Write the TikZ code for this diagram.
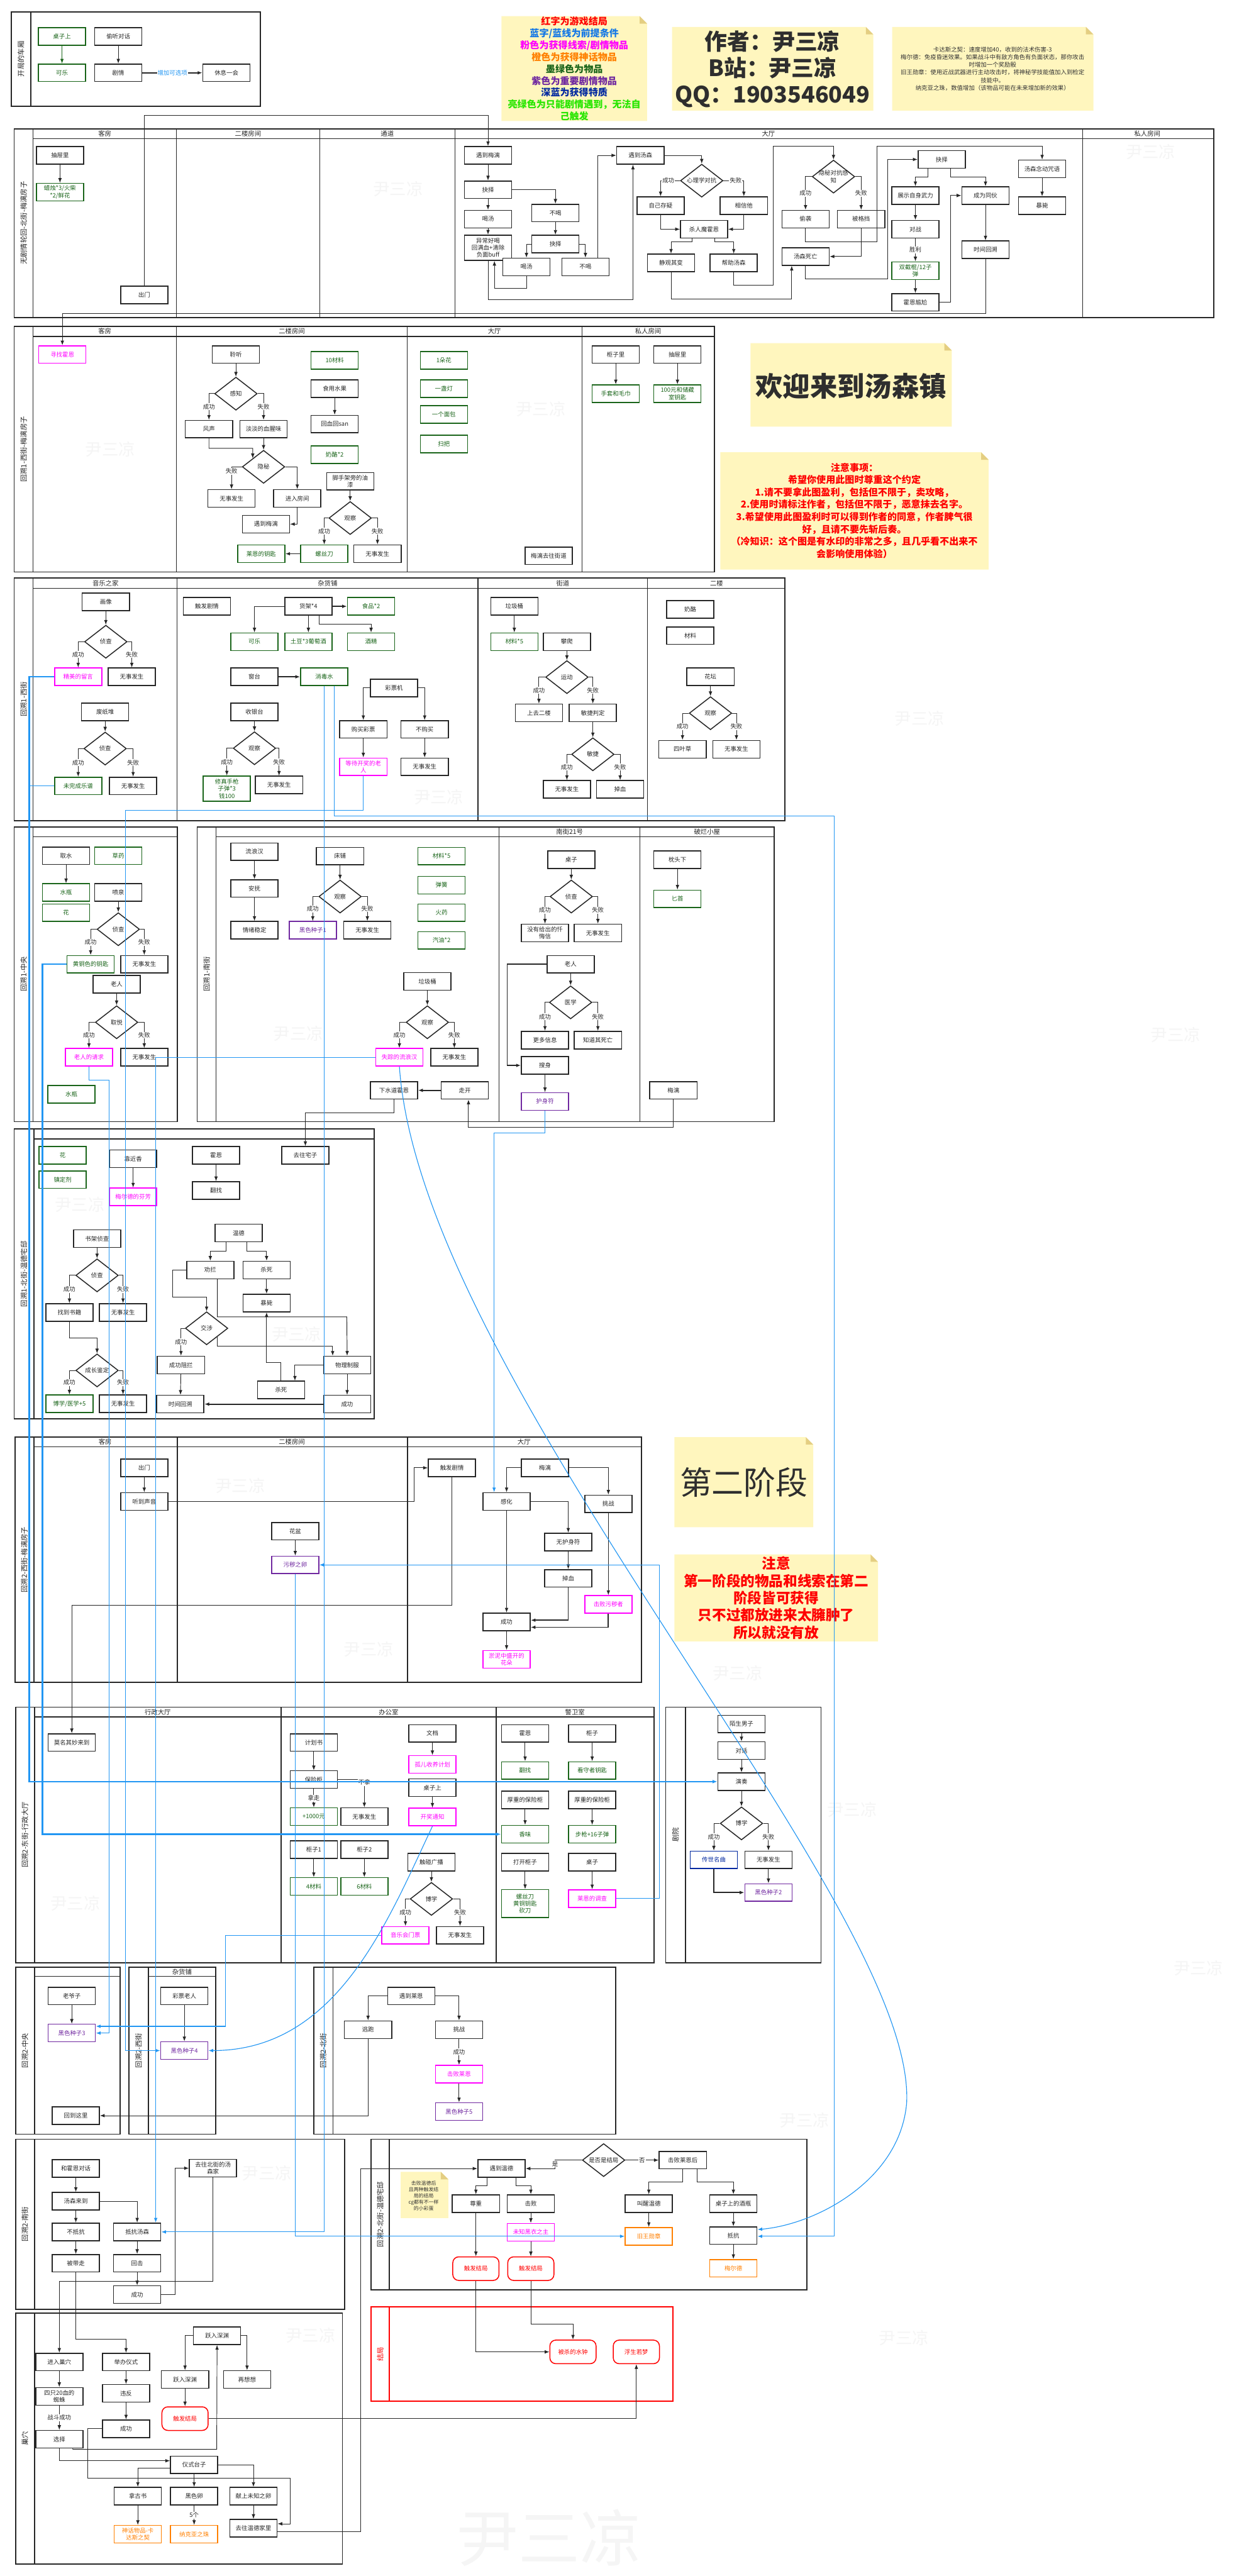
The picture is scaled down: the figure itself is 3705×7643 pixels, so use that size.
\documentclass[tikz,border=0pt]{standalone}
\usepackage{fontspec}
\setmainfont{Noto Sans CJK SC}
\usetikzlibrary{shapes.geometric,arrows.meta,calc}
\definecolor{itemg}{RGB}{25,100,25}
\definecolor{clue}{RGB}{255,0,255}
\definecolor{imp}{RGB}{112,40,160}
\definecolor{myth}{RGB}{255,128,0}
\definecolor{trait}{RGB}{0,40,160}
\definecolor{bl}{RGB}{33,150,243}
\definecolor{legblue}{RGB}{20,120,230}
\definecolor{brightg}{RGB}{40,230,0}
\definecolor{note}{RGB}{255,246,190}
\definecolor{fold}{RGB}{228,206,130}
\definecolor{ink}{RGB}{38,38,38}
\tikzset{
 base/.style={rectangle, draw, line width=0.8pt, minimum width=1.4cm, minimum height=0.52cm, inner sep=1pt, align=center, font=\fontsize{5}{6}\selectfont, fill=white},
 bx/.style={base, draw=ink, text=ink},
 gbx/.style={base, draw=itemg, text=itemg},
 mbx/.style={base, draw=clue, text=clue},
 pbx/.style={base, draw=imp, text=imp},
 obx/.style={base, draw=myth, text=myth},
 tbx/.style={base, draw=trait, text=trait},
 ebx/.style={base, draw=red, text=red, rounded corners=5pt, minimum height=0.7cm, minimum width=1.37cm},
 dia/.style={diamond, draw=ink, line width=0.8pt, minimum width=1.26cm, minimum height=0.98cm, inner sep=0pt, fill=white},
 dtx/.style={font=\fontsize{5}{6}\selectfont, align=center, inner sep=0pt, text=ink},
 arr/.style={draw=ink, line width=0.5pt, -{Latex[length=4pt,width=3pt]}},
 garr/.style={draw=itemg, line width=0.5pt, -{Latex[length=4pt,width=3pt]}},
 barr/.style={draw=bl, line width=0.6pt, -{Latex[length=4pt,width=3pt]}},
 bln/.style={draw=bl, line width=0.6pt},
 lbl/.style={fill=white, inner sep=0.6pt, font=\fontsize{5}{6}\selectfont, text=ink},
 frm/.style={draw=ink, line width=1pt},
 lane/.style={draw=ink, line width=0.7pt},
 hdr/.style={font=\fontsize{5.5}{6.5}\selectfont, text=ink, inner sep=0pt},
 ttl/.style={font=\fontsize{6}{7}\selectfont, text=ink, rotate=90, inner sep=0pt},
 wm/.style={font=\fontsize{14}{14}\selectfont, text=black!4, inner sep=0pt},
}
\newcommand\mydia[3]{\node[dia] (#1) at (#2) {}; \node[dtx] (#1t) at (#1) {#3};}
\newcommand\mynote[4]{\fill[note] (#1,#2) -- (#3-22,#2) -- (#3,#2+22) -- (#3,#4) -- (#1,#4) -- cycle; \fill[fold] (#3-22,#2) -- (#3,#2+22) -- (#3-22,#2+22) -- cycle;}
\begin{document}
\begin{tikzpicture}[x=0.01cm,y=-0.01cm]
\useasboundingbox (0,0) rectangle (3705,7643);
\fill[white] (0,0) rectangle (3705,7643);

% watermarks
\foreach \x/\y [count=\i] in {1181/560,3414/451,327/1333,1605/1213,1302/2366,2729/2131,885/3067,3488/3070,237/3574,880/3959,713/4408,1094/4893,2189/4964,224/5647,2528/5369,3556/5839,792/6448,2387/6291,922/6930,2682/6936}
  \node[wm] (wm\i) at (\x,\y) {尹三凉};
\node[wm, font=\fontsize{52}{52}\selectfont] (wmbig) at (1630,7529) {尹三凉};

% ---------------- notes ----------------
\mynote{1488}{48}{1920}{359}
\node[font=\fontsize{8}{10}\selectfont\bfseries, align=center] (legend) at (1704,204) {\textcolor{red}{红字为游戏结局}\\\textcolor{legblue}{蓝字/蓝线为前提条件}\\\textcolor{clue}{粉色为获得线索/剧情物品}\\\textcolor{myth}{橙色为获得神话物品}\\\textcolor{itemg}{墨绿色为物品}\\\textcolor{imp}{紫色为重要剧情物品}\\\textcolor{trait}{深蓝为获得特质}\\\textcolor{brightg}{亮绿色为只能剧情遇到，无法自}\\\textcolor{brightg}{己触发}};
\mynote{1994}{80}{2591}{328}
\node[font=\fontsize{19}{22.5}\selectfont\bfseries, text=black!82, align=center] (author) at (2292,205) {作者：尹三凉\\B站：尹三凉\\QQ：1903546049};
\mynote{2647}{80}{3244}{328}
\node[font=\fontsize{5}{6.5}\selectfont, text=black!80, align=center] (items) at (2945,204) {卡达斯之契：速度增加40，收到的法术伤害-3\\梅尔德：免疫昏迷效果。如果战斗中有敌方角色有负面状态，那你攻击\\时增加一个奖励骰\\旧王勋章：使用近战武器进行主动攻击时，将神秘学技能值加入到检定\\技能中。\\纳克亚之珠，数值增加（该物品可能在未来增加新的效果）};
\mynote{2227}{1018}{2824}{1266}
\node[font=\fontsize{23}{23}\selectfont\bfseries, text=black!82] (welcome) at (2525,1146) {欢迎来到汤森镇};
\mynote{2137}{1342}{2933}{1690}
\node[font=\fontsize{8}{10.4}\selectfont\bfseries, text=red, align=center] (notice) at (2535,1515) {注意事项：\\希望你使用此图时尊重这个约定\\1.请不要拿此图盈利，包括但不限于，卖攻略，\\2.使用时请标注作者，包括但不限于，恶意抹去名字。\\3.希望使用此图盈利时可以得到作者的同意，作者脾气很\\好，且请不要先斩后奏。\\（冷知识：这个图是有水印的非常之多，且几乎看不出来不\\会影响使用体验）};
\mynote{2001}{4264}{2413}{4531}
\node[font=\fontsize{27}{27}\selectfont, text=black!82] (stage2) at (2207,4398) {第二阶段};
\mynote{2001}{4612}{2605}{4870}
\node[font=\fontsize{12}{14.5}\selectfont\bfseries, text=red, align=center] (notice2) at (2303,4741) {注意\\第一阶段的物品和线索在第二\\阶段皆可获得\\只不过都放进来太臃肿了\\所以就没有放};
\mynote{1189}{6444}{1330}{6581}
\node[font=\fontsize{4.2}{5.4}\selectfont, text=black!80, align=center] (egg) at (1257,6515) {击败温德后\\且两种触发结\\局的结局\\cg都有不一样\\的小彩蛋};

% ---------------- section 0: 开局的车厢 ----------------
\draw[frm] (34,35) rectangle (772,315);
\draw[frm] (91,35) -- (91,315);
\node[ttl] (t0) at (62,175) {开局的车厢};
\node[gbx] (s0a) at (184,108) {桌子上};
\node[bx] (s0b) at (351,108) {偷听对话};
\node[gbx] (s0c) at (184,216) {可乐};
\node[bx] (s0d) at (351,216) {剧情};
\node[bx] (s0e) at (672,216) {休息一会};
\draw[garr] (s0a) -- (s0c);
\draw[arr] (s0b) -- (s0d);
\draw[arr, line width=0.9pt] (s0d) -- node[fill=white, inner sep=0.5pt, text=bl, font=\fontsize{5}{6}\selectfont] {增加可选项} (s0e);

% ---------------- section 1 ----------------
\draw[frm] (42,383) rectangle (3601,942);
\draw[frm] (98,383) -- (98,942);
\draw[lane] (98,412) -- (3601,412);
\foreach \xx in {523,949,1350,3212} \draw[lane] (\xx,383) -- (\xx,942);
\node[ttl] (t1) at (70,662) {无剧情轮回-北街-梅漓房子};
\node[hdr] (h1a) at (311,397) {客房};
\node[hdr] (h1b) at (736,397) {二楼房间};
\node[hdr] (h1c) at (1149,397) {通道};
\node[hdr] (h1d) at (2280,397) {大厅};
\node[hdr] (h1e) at (3404,397) {私人房间};

\node[bx] (a1) at (178,461) {抽屉里};
\node[gbx] (a2) at (178,570) {蜡烛*3/火柴\\*2/鲜花};
\node[bx] (a3) at (428,875) {出门};
\node[bx] (a4) at (1448,461) {遇到梅漓};
\node[bx] (a5) at (1448,563) {抉择};
\node[bx] (a6) at (1448,650) {喝汤};
\node[bx, minimum height=0.75cm] (a7) at (1448,735) {异常好喝\\回满血+清除\\负面buff};
\node[bx] (a8) at (1648,632) {不喝};
\node[bx] (a9) at (1648,724) {抉择};
\node[bx] (a10) at (1562,792) {喝汤};
\node[bx] (a11) at (1737,792) {不喝};
\node[bx] (a12) at (1900,461) {遇到汤森};
\mydia{a13}{2082,536}{心理学对抗}
\node[bx] (a14) at (1960,610) {自己存疑};
\node[bx] (a15) at (2207,610) {相信他};
\node[bx] (a16) at (2089,680) {杀人魔霍恩};
\node[bx] (a17) at (1991,780) {静观其变};
\node[bx] (a18) at (2177,780) {帮助汤森};
\node[bx] (a19) at (2390,761) {汤森死亡};
\mydia{a20}{2473,524}{隐秘对抗感\\知}
\node[bx] (a21) at (2390,650) {偷袭};
\node[bx] (a22) at (2555,650) {被格挡};
\node[bx] (a23) at (2794,473) {抉择};
\node[bx] (a24) at (2716,580) {展示自身武力};
\node[bx] (a25) at (2924,580) {成为同伙};
\node[bx] (a26) at (2716,680) {对战};
\node[gbx] (a27) at (2716,803) {双截棍/12子\\弹};
\node[bx] (a28) at (2716,897) {霍恩尴尬};
\node[bx] (a29) at (2924,741) {时间回溯};
\node[bx] (a30) at (3092,501) {汤森念动咒语};
\node[bx] (a31) at (3092,610) {暴毙};

\draw[arr] (a1) -- (a2);
\draw[arr] (a3.north) |- (1448,343) -- (a4.north);
\draw[arr] (a4) -- (a5);
\draw[arr] (a5) -- (a6);
\draw[arr] (a6) -- (a7);
\draw[arr] (a5.east) -| (a8.north);
\draw[arr] (a8) -- (a9);
\draw[arr] (a9.west) -| (a10.north);
\draw[arr] (a9.east) -| (a11.north);
\draw[arr] (a10.south) |- (1467,856) -- ($(a7.south)+(19,0)$);
\draw[arr] ($(a11.north)+(36,0)$) |- (a12.west);
\draw[arr] (a7.south) |- (1878,889) -- ($(a12.south)+(-22,0)$);
\draw[arr] (a12.east) -| (a13.north);
\draw[arr] (a13.west) -| node[lbl,pos=0.3]{成功} (a14.north);
\draw[arr] (a13.east) -| node[lbl,pos=0.3]{失败} (a15.north);
\draw[arr] (a14.south) |- (a16.west);
\draw[arr] (a15.south) |- (a16.east);
\draw[arr] ($(a16.south)+(-35,0)$) |- (1991,718) -- (a17.north);
\draw[arr] ($(a16.south)+(32,0)$) |- (2177,718) -- (a18.north);
\draw[arr] (a18.south) |- (2295,846) |- (2473,433) -- (a20.north);
\draw[arr] (a17.south) |- (2349,888) -- ($(a19.south)+(-41,0)$);
\draw[arr] (a20.west) -| node[lbl,pos=0.75]{成功} (a21.north);
\draw[arr] (a20.east) -| node[lbl,pos=0.75]{失败} (a22.north);
\draw[arr] (a21.south) |- (2602,718) |- (3092,433) -- (a30.north);
\draw[arr] (a22.south) |- (a19.east);
\draw[arr] (a19.south) |- (2634,828) |- (a23.west);
\draw[arr] ($(a23.south)+(-40,0)$) |- (2716,526) -- (a24.north);
\draw[arr] ($(a23.south)+(27,0)$) |- (2924,526) -- (a25.north);
\draw[arr] (a24) -- (a26);
\draw[arr] (a26) -- node[lbl]{胜利} (a27);
\draw[arr] (a27) -- (a28);
\draw[arr] (a28.east) -| (2821,580) -- (a25.west);
\draw[arr] (a25) -- (a29);
\draw[arr] (a30) -- (a31);

% ---------------- section 2 ----------------
\draw[frm] (42,969) rectangle (2119,1697);
\draw[frm] (98,969) -- (98,1697);
\draw[lane] (98,998) -- (2119,998);
\foreach \xx in {523,1208,1727} \draw[lane] (\xx,969) -- (\xx,1697);
\node[ttl] (t2) at (70,1333) {回溯1-西街-梅漓房子};
\node[hdr] (h2a) at (311,983) {客房};
\node[hdr] (h2b) at (866,983) {二楼房间};
\node[hdr] (h2c) at (1467,983) {大厅};
\node[hdr] (h2d) at (1923,983) {私人房间};

\node[mbx] (b1) at (185,1052) {寻找霍恩};
\node[bx] (b2) at (700,1052) {聆听};
\mydia{b3}{700,1168}{感知}
\node[bx] (b4) at (620,1273) {风声};
\node[bx] (b5) at (782,1273) {淡淡的血腥味};
\mydia{b6}{782,1385}{隐秘}
\node[bx] (b7) at (687,1479) {无事发生};
\node[bx] (b8) at (882,1479) {进入房间};
\node[bx] (b9) at (789,1555) {遇到梅漓};
\node[gbx] (b10) at (993,1069) {10材料};
\node[bx] (b11) at (993,1153) {食用水果};
\node[bx] (b12) at (993,1258) {回血回san};
\node[gbx] (b13) at (993,1349) {奶酪*2};
\node[bx] (b14) at (1039,1428) {脚手架旁的油\\漆};
\mydia{b15}{1039,1537}{观察}
\node[gbx] (b16) at (962,1643) {螺丝刀};
\node[bx] (b17) at (1120,1643) {无事发生};
\node[gbx] (b18) at (775,1643) {莱恩的钥匙};
\node[gbx] (b19) at (1317,1069) {1朵花};
\node[gbx] (b20) at (1317,1153) {一盏灯};
\node[gbx] (b21) at (1317,1230) {一个面包};
\node[gbx] (b22) at (1317,1317) {扫把};
\node[bx] (b23) at (1628,1649) {梅漓去往街道};
\node[bx] (b24) at (1827,1052) {柜子里};
\node[gbx] (b25) at (1827,1168) {手套和毛巾};
\node[bx] (b26) at (2010,1052) {抽屉里};
\node[gbx] (b27) at (2010,1168) {100元和储藏\\室钥匙};

\draw[arr] (a29.south) |- (185,931) -- (b1.north);
\draw[arr] (b2) -- (b3);
\draw[arr] (b3.west) -| node[lbl,pos=0.75]{成功} (b4.north);
\draw[arr] (b3.east) -| node[lbl,pos=0.75]{失败} (b5.north);
\draw[arr] (b4.south) |- (750,1330) -- (b6.north west);
\draw[arr] (b5) -- (b6);
\draw[arr] (b6.west) -| node[lbl,pos=0.6]{失败} (b7.north);
\draw[arr] (b6.east) -| (b8.north);
\draw[arr] (b8.south) |- (b9.east);
\draw[arr] (b11) -- (b12);
\draw[arr] (b14) -- (b15);
\draw[arr] (b15.west) -| node[lbl,pos=0.75]{成功} (b16.north);
\draw[arr] (b15.east) -| node[lbl,pos=0.75]{失败} (b17.north);
\draw[arr, line width=0.9pt] (b16) -- (b18);
\draw[arr] (b24) -- (b25);
\draw[arr] (b26) -- (b27);

% ---------------- section 3 ----------------
\draw[frm] (42,1715) rectangle (2328,2435);
\draw[frm] (98,1715) -- (98,2435);
\draw[lane] (98,1745) -- (2328,1745);
\foreach \xx in {525,1418,1921} \draw[lane] (\xx,1715) -- (\xx,2435);
\node[ttl] (t3) at (70,2075) {回溯1-西街};
\node[hdr] (h3a) at (313,1730) {音乐之家};
\node[hdr] (h3b) at (972,1730) {杂货铺};
\node[hdr] (h3c) at (1670,1730) {街道};
\node[hdr] (h3d) at (2126,1730) {二楼};

\node[bx] (c1) at (314,1786) {画像};
\mydia{c2}{314,1904}{侦查}
\node[mbx] (c3) at (232,2008) {精美的留言};
\node[bx] (c4) at (391,2008) {无事发生};
\node[bx] (c5) at (312,2112) {废纸堆};
\mydia{c6}{312,2221}{侦查}
\node[gbx] (c7) at (232,2332) {未完成乐谱};
\node[bx] (c8) at (395,2332) {无事发生};
\node[bx] (c9) at (614,1799) {触发剧情};
\node[bx] (c10) at (915,1799) {货架*4};
\node[gbx] (c11) at (1101,1799) {食品*2};
\node[gbx] (c12) at (755,1904) {可乐};
\node[gbx] (c13) at (915,1904) {土豆*3葡萄酒};
\node[gbx] (c14) at (1101,1904) {酒精};
\node[bx] (c15) at (755,2008) {窗台};
\node[gbx] (c16) at (962,2008) {消毒水};
\node[bx] (c17) at (1169,2041) {彩票机};
\node[bx] (c18) at (1078,2164) {购买彩票};
\node[bx] (c19) at (1260,2164) {不购买};
\node[mbx] (c20) at (1078,2275) {等待开奖的老\\人};
\node[bx] (c21) at (1260,2275) {无事发生};
\node[bx] (c22) at (755,2112) {收银台};
\mydia{c23}{755,2220}{观察}
\node[gbx, minimum height=0.75cm] (c24) at (673,2340) {修真手枪\\子弹*3\\钱100};
\node[bx] (c25) at (828,2329) {无事发生};
\node[bx] (c26) at (1526,1799) {垃圾桶};
\node[gbx] (c27) at (1526,1904) {材料*5};
\node[bx] (c28) at (1682,1904) {攀爬};
\mydia{c29}{1682,2009}{运动}
\node[bx] (c30) at (1599,2115) {上去二楼};
\node[bx] (c31) at (1759,2115) {敏捷判定};
\mydia{c32}{1759,2238}{敏捷}
\node[bx] (c33) at (1682,2342) {无事发生};
\node[bx] (c34) at (1840,2342) {掉血};
\node[bx] (c35) at (2048,1808) {奶酪};
\node[bx] (c36) at (2048,1886) {材料};
\node[bx] (c37) at (2108,2008) {花坛};
\mydia{c38}{2108,2116}{观察}
\node[bx] (c39) at (2025,2223) {四叶草};
\node[bx] (c40) at (2185,2223) {无事发生};

\draw[arr] (c1) -- (c2);
\draw[arr] (c2.west) -| node[lbl,pos=0.75]{成功} (c3.north);
\draw[arr] (c2.east) -| node[lbl,pos=0.75]{失败} (c4.north);
\draw[arr] (c5) -- (c6);
\draw[arr] (c6.west) -| node[lbl,pos=0.75]{成功} (c7.north);
\draw[arr] (c6.east) -| node[lbl,pos=0.75]{失败} (c8.north);
\draw[arr] (c10.west) -| (c12.north);
\draw[arr] (c10) -- (c13);
\draw[arr] ($(c10.south)+(31,0)$) |- (1101,1851) -- (c14.north);
\draw[arr, line width=1pt] (c10) -- (c11);
\draw[arr, line width=1pt] (c15) -- (c16);
\draw[arr] (c17.west) -| (c18.north);
\draw[arr] (c17.east) -| (c19.north);
\draw[arr] (c18) -- (c20);
\draw[arr] (c19) -- (c21);
\draw[arr] (c22) -- (c23);
\draw[arr] (c23.west) -| node[lbl,pos=0.75]{成功} (c24.north);
\draw[arr] (c23.east) -| node[lbl,pos=0.75]{失败} (c25.north);
\draw[arr] (c26) -- (c27);
\draw[arr] (c28) -- (c29);
\draw[arr] (c29.west) -| node[lbl,pos=0.75]{成功} (c30.north);
\draw[arr] (c29.east) -| node[lbl,pos=0.75]{失败} (c31.north);
\draw[arr] (c31) -- (c32);
\draw[arr] (c32.west) -| node[lbl,pos=0.75]{成功} (c33.north);
\draw[arr] (c32.east) -| node[lbl,pos=0.75]{失败} (c34.north);
\draw[arr] (c37) -- (c38);
\draw[arr] (c38.west) -| node[lbl,pos=0.75]{成功} (c39.north);
\draw[arr] (c38.east) -| node[lbl,pos=0.75]{失败} (c40.north);

% ---------------- section 4a ----------------
\draw[frm] (42,2453) rectangle (527,3328);
\draw[frm] (98,2453) -- (98,3328);
\draw[lane] (98,2482) -- (527,2482);
\node[ttl] (t4a) at (70,2890) {回溯1-中央};
\node[bx] (d1) at (196,2539) {取水};
\node[gbx] (d2) at (351,2539) {草药};
\node[gbx] (d3) at (196,2648) {水瓶};
\node[bx] (d4) at (351,2648) {喷泉};
\node[gbx] (d5) at (196,2708) {花};
\mydia{d6}{351,2757}{侦查}
\node[gbx] (d7) at (269,2861) {黄铜色的钥匙};
\node[bx] (d8) at (428,2861) {无事发生};
\node[bx] (d9) at (346,2920) {老人};
\mydia{d10}{346,3033}{取悦}
\node[mbx] (d11) at (264,3137) {老人的请求};
\node[bx] (d12) at (428,3137) {无事发生};
\node[gbx] (d13) at (212,3247) {水瓶};
\draw[arr] (d1) -- (d3);
\draw[arr] (d4) -- (d6);
\draw[arr] (d6.west) -| node[lbl,pos=0.75]{成功} (d7.north);
\draw[arr] (d6.east) -| node[lbl,pos=0.75]{失败} (d8.north);
\draw[arr] (d9) -- (d10);
\draw[arr] (d10.west) -| node[lbl,pos=0.75]{成功} (d11.north);
\draw[arr] (d10.east) -| node[lbl,pos=0.75]{失败} (d12.north);

% ---------------- section 4b ----------------
\draw[frm] (585,2453) rectangle (2297,3328);
\draw[frm] (641,2453) -- (641,3328);
\draw[lane] (641,2482) -- (2297,2482);
\foreach \xx in {1481,1899} \draw[lane] (\xx,2453) -- (\xx,3328);
\node[ttl] (t4b) at (613,2890) {回溯1-南街};
\node[hdr] (h4a) at (1690,2467) {南街21号};
\node[hdr] (h4b) at (2098,2467) {破烂小屋};
\node[bx] (e1) at (755,2527) {流浪汉};
\node[bx] (e2) at (755,2636) {安抚};
\node[bx] (e3) at (755,2760) {情绪稳定};
\node[bx] (e4) at (1009,2540) {床铺};
\mydia{e5}{1009,2660}{观察}
\node[pbx] (e6) at (928,2760) {黑色种子1};
\node[bx] (e7) at (1090,2760) {无事发生};
\node[gbx] (e8) at (1310,2540) {材料*5};
\node[gbx] (e9) at (1310,2626) {弹簧};
\node[gbx] (e10) at (1310,2708) {火药};
\node[gbx] (e11) at (1310,2790) {汽油*2};
\node[bx] (e12) at (1268,2912) {垃圾桶};
\mydia{e13}{1268,3033}{观察}
\node[mbx] (e14) at (1185,3137) {失踪的流浪汉};
\node[bx] (e15) at (1348,3137) {无事发生};
\node[bx] (e16) at (1169,3235) {下水道霍恩};
\node[bx] (e17) at (1379,3235) {走开};
\node[bx] (e18) at (1695,2551) {桌子};
\mydia{e19}{1695,2660}{侦查}
\node[bx] (e20) at (1617,2768) {没有给出的忏\\悔信};
\node[bx] (e21) at (1774,2768) {无事发生};
\node[bx] (e22) at (1693,2861) {老人};
\mydia{e23}{1693,2974}{医学}
\node[bx] (e24) at (1617,3086) {更多信息};
\node[bx] (e25) at (1774,3086) {知道其死亡};
\node[bx] (e26) at (1617,3161) {搜身};
\node[pbx] (e27) at (1617,3268) {护身符};
\node[bx] (e28) at (2010,2551) {枕头下};
\node[gbx] (e29) at (2010,2667) {匕首};
\node[bx] (e30) at (1998,3235) {梅漓};
\draw[arr] (e1) -- (e2);
\draw[arr] (e2) -- (e3);
\draw[arr] (e4) -- (e5);
\draw[arr] (e5.west) -| node[lbl,pos=0.75]{成功} (e6.north);
\draw[arr] (e5.east) -| node[lbl,pos=0.75]{失败} (e7.north);
\draw[arr] (e12) -- (e13);
\draw[arr] (e13.west) -| node[lbl,pos=0.75]{成功} (e14.north);
\draw[arr] (e13.east) -| node[lbl,pos=0.75]{失败} (e15.north);
\draw[arr, line width=1pt] (e17) -- (e16);
\draw[arr] (e18) -- (e19);
\draw[arr] (e19.west) -| node[lbl,pos=0.75]{成功} (e20.north);
\draw[arr] (e19.east) -| node[lbl,pos=0.75]{失败} (e21.north);
\draw[arr] (e22) -- (e23);
\draw[arr] (e23.west) -| node[lbl,pos=0.75]{成功} (e24.north);
\draw[arr] (e23.east) -| node[lbl,pos=0.75]{失败} (e25.north);
\draw[arr, line width=0.9pt] (e22.west) -| (1505,3161) -- (e26.west);
\draw[arr] (e26) -- (e27);
\draw[arr] (e28) -- (e29);
\draw[arr] (e30.south) |- (1390,3345) -- ($(e17.south)+(11,0)$);

% ---------------- section 5 ----------------
\draw[frm] (42,3350) rectangle (1110,4210);
\draw[frm] (100,3350) -- (100,4210);
\draw[lane] (100,3379) -- (1110,3379);
\node[ttl] (t5) at (71,3780) {回溯1-北街-温德宅邸};
\node[gbx] (f1) at (186,3428) {花};
\node[gbx] (f2) at (186,3500) {镇定剂};
\node[bx] (f3) at (395,3438) {靠近香};
\node[mbx] (f4) at (395,3551) {梅尔德的芬芳};
\node[bx] (f5) at (641,3428) {霍恩};
\node[bx] (f6) at (641,3532) {翻找};
\node[bx] (f7) at (906,3428) {去往宅子};
\node[bx] (f8) at (288,3675) {书架侦查};
\mydia{f9}{288,3784}{侦查}
\node[bx] (f10) at (206,3894) {找到书籍};
\node[bx] (f11) at (365,3894) {无事发生};
\mydia{f12}{288,4066}{成长鉴定}
\node[gbx] (f13) at (206,4165) {博学/医学+5};
\node[bx] (f14) at (365,4165) {无事发生};
\node[bx] (f15) at (708,3658) {温德};
\node[bx] (f16) at (624,3768) {劝拦};
\node[bx] (f17) at (791,3768) {杀死};
\node[bx] (f18) at (791,3866) {暴毙};
\mydia{f19}{613,3941}{交涉}
\node[bx] (f20) at (537,4050) {成功阻拦};
\node[bx] (f21) at (1030,4050) {物理制服};
\node[bx] (f22) at (834,4124) {杀死};
\node[bx] (f23) at (535,4166) {时间回溯};
\node[bx] (f24) at (1030,4166) {成功};
\draw[arr] (e16.south) |- (906,3302) -- (f7.north);
\draw[arr] (f3) -- (f4);
\draw[arr] (f5) -- (f6);
\draw[arr] (f8) -- (f9);
\draw[arr] (f9.west) -| node[lbl,pos=0.75]{成功} (f10.north);
\draw[arr] (f9.east) -| node[lbl,pos=0.75]{失败} (f11.north);
\draw[arr] (f10.south) |- (288,3969) -- (f12.north);
\draw[arr] (f12.west) -| node[lbl,pos=0.75]{成功} (f13.north);
\draw[arr] (f12.east) -| node[lbl,pos=0.75]{失败} (f14.north);
\draw[arr] ($(f15.south)+(-38,0)$) |- (624,3712) -- (f16.north);
\draw[arr] ($(f15.south)+(24,0)$) |- (791,3712) -- (f17.north);
\draw[arr] (f17) -- (f18);
\draw[arr] (f16.west) -| (513,3849) -| (f19.north);
\draw[arr] ($(f16.south)+(21,0)$) |- (1029,3907) -- (f21.north);
\draw[arr] (f19.west) -| node[lbl,pos=0.75]{成功} (f20.north);
\draw[arr] (f19.south east) |- (987,3994) -- ($(f21.north)+(-43,0)$);
\draw[arr] (f21.west) -| ($(f22.north)+(41,0)$);
\draw[arr] (f22.north) |- (791,4043) -- (f18.south);
\draw[arr] (f20) -- (f23);
\draw[arr] (f21) -- (f24);
\draw[arr, line width=1pt] (f24) -- (f23);

% ---------------- section 6 ----------------
\draw[frm] (45,4264) rectangle (1904,4992);
\draw[frm] (100,4264) -- (100,4992);
\draw[lane] (100,4292) -- (1904,4292);
\foreach \xx in {526,1209} \draw[lane] (\xx,4264) -- (\xx,4992);
\node[ttl] (t6) at (72,4628) {回溯2-西街-梅漓房子};
\node[hdr] (h6a) at (312,4278) {客房};
\node[hdr] (h6b) at (866,4278) {二楼房间};
\node[hdr] (h6c) at (1555,4278) {大厅};
\node[bx] (g1) at (428,4355) {出门};
\node[bx] (g2) at (428,4455) {听到声音};
\node[bx] (g3) at (1341,4355) {触发剧情};
\node[bx] (g4) at (1617,4355) {梅漓};
\node[bx] (g5) at (1503,4455) {感化};
\node[bx] (g6) at (1805,4462) {挑战};
\node[bx] (g7) at (1686,4575) {无护身符};
\node[bx] (g8) at (1686,4683) {掉血};
\node[mbx] (g9) at (1805,4760) {击败污秽者};
\node[bx] (g10) at (1503,4812) {成功};
\node[mbx] (g11) at (1503,4923) {淤泥中盛开的\\花朵};
\node[bx] (g12) at (876,4543) {花盆};
\node[pbx] (g13) at (876,4643) {污秽之卵};
\draw[arr] (g1) -- (g2);
\draw[arr] (g2.east) -| (1229,4355) -- (g3.west);
\draw[arr] (g4.west) -| (g5.north);
\draw[arr] (g4.east) -| (g6.north);
\draw[arr] (g5.east) -| (g7.north);
\draw[arr] (g7) -- (g8);
\draw[arr, line width=0.9pt] (g8.south) |- ($(g10.east)+(0,-5)$);
\draw[arr] (g6) -- (g9);
\draw[arr, line width=0.9pt] (g9.south) |- ($(g10.east)+(0,16)$);
\draw[arr] (g5) -- (g10);
\draw[arr] (g10) -- (g11);
\draw[arr] (g12) -- (g13);

% ---------------- section 7 ----------------
\draw[frm] (47,5065) rectangle (1940,5823);
\draw[frm] (102,5065) -- (102,5823);
\draw[lane] (102,5094) -- (1940,5094);
\foreach \xx in {834,1472} \draw[lane] (\xx,5065) -- (\xx,5823);
\node[ttl] (t7) at (74,5444) {回溯2-东街-行政大厅};
\node[hdr] (h7a) at (468,5080) {行政大厅};
\node[hdr] (h7b) at (1153,5080) {办公室};
\node[hdr] (h7c) at (1706,5080) {警卫室};
\node[bx] (h1) at (213,5170) {莫名其妙来到};
\node[bx] (h2) at (931,5170) {计划书};
\node[bx] (h3) at (931,5280) {保险柜};
\node[gbx] (h4) at (931,5390) {+1000元};
\node[bx] (h5) at (1081,5390) {无事发生};
\node[bx] (h6) at (931,5488) {柜子1};
\node[bx] (h7) at (1081,5488) {柜子2};
\node[gbx] (h8) at (931,5597) {4材料};
\node[gbx] (h9) at (1081,5597) {6材料};
\node[bx] (h10) at (1283,5143) {文档};
\node[mbx] (h11) at (1283,5235) {孤儿收养计划};
\node[bx] (h12) at (1283,5304) {桌子上};
\node[mbx] (h13) at (1283,5391) {开奖通知};
\node[bx] (h14) at (1280,5525) {触碰广播};
\mydia{h15}{1280,5634}{博学}
\node[mbx] (h16) at (1203,5742) {音乐会门票};
\node[bx] (h17) at (1365,5742) {无事发生};
\node[bx] (h18) at (1558,5143) {霍恩};
\node[bx] (h19) at (1757,5143) {柜子};
\node[gbx] (h20) at (1558,5253) {翻找};
\node[gbx] (h21) at (1757,5253) {看守者钥匙};
\node[bx] (h22) at (1558,5340) {厚重的保险柜};
\node[bx] (h23) at (1757,5340) {厚重的保险柜};
\node[gbx] (h24) at (1558,5442) {香味};
\node[gbx] (h25) at (1757,5442) {步枪+16子弹};
\node[bx] (h26) at (1558,5525) {打开柜子};
\node[bx] (h27) at (1757,5525) {桌子};
\node[gbx, minimum height=0.83cm] (h28) at (1558,5648) {螺丝刀\\黄铜钥匙\\砍刀};
\node[mbx] (h29) at (1757,5633) {莱恩的调查};
\draw[arr] (g3.south) |- (213,4762) -- (h1.north);
\draw[arr] (h2) -- (h3);
\draw[arr] (h3) -- node[lbl]{拿走} (h4);
\draw[arr] (h3.east) -| node[lbl,pos=0.55]{不拿} (h5.north);
\draw[arr] (h6) -- (h8);
\draw[arr] (h7) -- (h9);
\draw[arr] (h10) -- (h11);
\draw[arr] (h12) -- (h13);
\draw[arr] (h14) -- (h15);
\draw[arr] (h15.west) -| node[lbl,pos=0.75]{成功} (h16.north);
\draw[arr] (h15.east) -| node[lbl,pos=0.75]{失败} (h17.north);
\draw[arr] (h18) -- (h20);
\draw[arr] (h19) -- (h21);
\draw[arr] (h22) -- (h24);
\draw[arr] (h23) -- (h25);
\draw[arr] (h26) -- (h28);
\draw[arr] (h27) -- (h29);

% ---------------- section 7b: 剧院 ----------------
\draw[frm] (1975,5065) rectangle (2436,5823);
\draw[frm] (2034,5065) -- (2034,5823);
\node[ttl] (t7b) at (2004,5444) {剧院};
\node[bx] (i1) at (2200,5115) {陌生男子};
\node[bx] (i2) at (2200,5194) {对话};
\node[bx] (i3) at (2200,5286) {演奏};
\mydia{i4}{2200,5410}{博学}
\node[tbx] (i5) at (2118,5518) {传世名曲};
\node[bx] (i6) at (2280,5518) {无事发生};
\node[pbx] (i7) at (2280,5615) {黑色种子2};
\draw[arr] (i1) -- (i2);
\draw[arr] (i2) -- (i3);
\draw[arr] (i3) -- (i4);
\draw[arr] (i4.west) -| node[lbl,pos=0.75]{成功} (i5.north);
\draw[arr] (i4.east) -| node[lbl,pos=0.75]{失败} (i6.north);
\draw[arr, line width=1pt] (i5.south) |- (i7.west);
\draw[arr] (i6) -- (i7);

% ---------------- section 8 ----------------
\draw[frm] (47,5836) rectangle (357,6332);
\draw[frm] (102,5836) -- (102,6332);
\draw[lane] (102,5864) -- (357,5864);
\node[ttl] (t8a) at (74,6084) {回溯2-中央};
\draw[frm] (383,5836) rectangle (640,6332);
\draw[frm] (440,5836) -- (440,6332);
\draw[lane] (440,5864) -- (640,5864);
\node[ttl] (t8b) at (411,6084) {回溯2-西街};
\node[hdr] (h8b) at (540,5850) {杂货铺};
\draw[frm] (931,5836) rectangle (1826,6332);
\draw[frm] (988,5836) -- (988,6332);
\node[ttl] (t8c) at (959,6084) {回溯2-北街};
\node[bx] (j1) at (213,5922) {老爷子};
\node[pbx] (j2) at (213,6032) {黑色种子3};
\node[bx] (j3) at (225,6277) {回到这里};
\node[bx] (j4) at (547,5922) {彩票老人};
\node[pbx] (j5) at (547,6084) {黑色种子4};
\node[bx] (j6) at (1220,5922) {遇到莱恩};
\node[bx] (j7) at (1092,6022) {逃跑};
\node[bx] (j8) at (1362,6022) {挑战};
\node[mbx] (j9) at (1362,6154) {击败莱恩};
\node[pbx] (j10) at (1362,6265) {黑色种子5};
\draw[arr] (j1) -- (j2);
\draw[arr] (j4) -- (j5);
\draw[arr] (j6.west) -| (j7.north);
\draw[arr] (j6.east) -| (j8.north);
\draw[arr] (j8) -- node[lbl]{成功} (j9);
\draw[arr] (j9) -- (j10);
\draw[arr] (j7.south) |- (j3.east);

% ---------------- section 9: 回溯2-南街 ----------------
\draw[frm] (47,6347) rectangle (1023,6851);
\draw[frm] (102,6347) -- (102,6851);
\node[ttl] (t9) at (74,6599) {回溯2-南街};
\node[bx] (k1) at (225,6434) {和霍恩对话};
\node[bx] (k2) at (225,6531) {汤森来到};
\node[bx] (k3) at (225,6622) {不抵抗};
\node[bx] (k4) at (225,6715) {被带走};
\node[bx] (k5) at (407,6622) {抵抗汤森};
\node[bx] (k6) at (407,6715) {回击};
\node[bx] (k7) at (407,6808) {成功};
\node[bx] (k8) at (632,6433) {去往北街的汤\\森家};
\draw[arr] (k1) -- (k2);
\draw[arr] (k2) -- (k3);
\draw[arr] (k3) -- (k4);
\draw[arr] (k2.east) -| (k5.north);
\draw[arr] (k5) -- (k6);
\draw[arr] (k6) -- (k7);
\draw[arr] (k7.east) -| (520,6433) -- (k8.west);

% ---------------- section 10: 巢穴 ----------------
\draw[frm] (47,6863) rectangle (1016,7608);
\draw[frm] (102,6863) -- (102,7608);
\node[ttl] (t10) at (74,7235) {巢穴};
\node[bx] (l1) at (176,7008) {进入巢穴};
\node[bx] (l2) at (176,7110) {四只20血的\\蜘蛛};
\node[bx] (l3) at (176,7237) {选择};
\node[bx] (l4) at (374,7008) {举办仪式};
\node[bx] (l5) at (374,7101) {违反};
\node[bx] (l6) at (374,7206) {成功};
\node[bx] (l7) at (644,6930) {跃入深渊};
\node[bx] (l8) at (549,7060) {跃入深渊};
\node[bx] (l9) at (733,7060) {再想想};
\node[ebx] (l10) at (549,7176) {触发结局};
\node[bx] (l11) at (576,7313) {仪式台子};
\node[bx] (l12) at (409,7406) {拿古书};
\node[bx] (l13) at (576,7406) {黑色卵};
\node[bx] (l14) at (752,7406) {献上未知之卵};
\node[obx] (l15) at (409,7519) {神话物品-卡\\达斯之契};
\node[obx] (l16) at (576,7519) {纳克亚之珠};
\node[bx] (l17) at (752,7501) {去往温德家里};
\draw[arr] (k8.south) |- (176,6769) -- (l1.north);
\draw[arr] (k4.south) |- (374,6940) -- (l4.north);
\draw[arr] (l1) -- (l2);
\draw[arr] (l2) -- node[lbl]{战斗成功} (l3);
\draw[arr] (l4) -- (l5);
\draw[arr] (l5) -- (l6);
\draw[arr] (l7.west) -| (l8.north);
\draw[arr] (l7.east) -| (l9.north);
\draw[arr] (l8) -- (l10);
\draw[arr] ($(l3.south)+(40,0)$) |- (643,7267) -- (l7.south);
\draw[arr] (l3.south) |- ($(l11.west)+(0,-12)$);
\draw[arr] (l6.west) -| (260,7352) -| (862,7488) -- ($(l17.east)+(0,-13)$);
\draw[arr] ($(l11.west)+(0,10)$) -| (l12.north);
\draw[arr] (l11) -- (l13);
\draw[arr] (l11.east) -| (l14.north);
\draw[arr] (l12) -- (l15);
\draw[arr] (l13) -- node[lbl]{5个} (l16);
\draw[arr] (l14) -- (l17);

% ---------------- section 11: 回溯2-北街-温德宅邸 ----------------
\draw[frm] (1101,6347) rectangle (2394,6794);
\draw[frm] (1155,6347) -- (1155,6794);
\node[ttl] (t11) at (1128,6570) {回溯2-北街-温德宅邸};
\node[bx] (m1) at (1488,6434) {遇到温德};
\mydia{m2}{1791,6409}{是否是结局}
\node[bx] (m3) at (2026,6409) {击败莱恩后};
\node[bx] (m4) at (1412,6538) {尊重};
\node[bx] (m5) at (1575,6538) {击败};
\node[bx] (m6) at (1925,6538) {叫醒温德};
\node[bx] (m7) at (2176,6538) {桌子上的酒瓶};
\node[mbx] (m8) at (1575,6623) {未知黑衣之主};
\node[obx] (m9) at (1925,6635) {旧王勋章};
\node[bx] (m10) at (2176,6633) {抵抗};
\node[obx] (m11) at (2176,6730) {梅尔德};
\node[ebx] (m12) at (1412,6731) {触发结局};
\node[ebx] (m13) at (1575,6731) {触发结局};
\draw[arr] (m2.west) -| (1647,6434) -- (m1.east);
\node[lbl] (m2yes) at (1647,6420) {是};
\draw[arr] (m2.east) -- node[lbl]{否} (m3.west);
\draw[arr] ($(m1.south)+(-42,0)$) |- (1412,6485) -- (m4.north);
\draw[arr] ($(m1.south)+(43,0)$) |- (1575,6485) -- (m5.north);
\draw[arr] (m3.south) |- (1925,6473) -- (m6.north);
\draw[arr] ($(m3.south)+(42,0)$) |- (2176,6473) -- (m7.north);
\draw[arr] (m6) -- (m9);
\draw[arr] (m7) -- (m10);
\draw[arr] (m10) -- (m11);
\draw[arr] (m5) -- (m8);
\draw[arr] (m8) -- (m13);
\draw[arr] (m4) -- (m12);
\draw[arr] ($(l17.east)+(0,10)$) -| (1070,6434) -- (m1.west);

% ---------------- section 12: 结局 ----------------
\draw[draw=red, line width=1pt] (1101,6845) rectangle (1997,7124);
\draw[draw=red, line width=1pt] (1155,6845) -- (1155,7124);
\node[ttl, text=red] (t12) at (1128,6985) {结局};
\node[ebx] (n1) at (1700,6978) {被杀的水钟};
\node[ebx] (n2) at (1888,6978) {浮生若梦};
\draw[arr] (m12.south) |- (n1.west);
\draw[arr] (m13.south) |- (1700,6895) -- (n1.north);
\draw[arr] (l10.east) -| (n2.south);

% ---------------- blue prerequisite lines ----------------
\draw[bln] (c7.west) -- (87,2332);
\draw[barr, line width=1.2pt] (c3.west) -| (87,5286) -- (i3.west);
\draw[barr, line width=1.2pt] (d7.west) -| (126,5442) -- (h24.west);
\draw[barr] (d11.south) |- (324,3205) -- (324,6032) -- (j2.east);
\draw[barr] (c20.south) |- (372,2404) -- (372,6084) -- (j5.west);
\draw[barr] (e14.west) -| ($(k5.north)+(55,0)$);
\draw[barr] (c16.south) |- (k5.east);
\draw[barr] ($(c16.south)+(30,0)$) |- (2475,2421) |- ($(m10.east)+(0,2)$);
\draw[barr] (e14.south) .. controls (1250,4100) and (2720,5650) .. (2690,6240) .. controls (2670,6470) and (2420,6600) .. ($(m10.east)+(0,-18)$);
\draw[barr] (e27.south) |- (1466,3362) -- ($(g5.north)+(-37,0)$);
\draw[barr] (g13.south) |- (m9.west);
\draw[barr] (h29.east) -| (1957,4643) -- (g13.east);
\draw[barr] (h13.south) .. controls (1150,5700) and (1000,6084) .. (j5.east);
\draw[barr] (h16.west) -| (669,6012) -- ($(j2.east)+(0,-20)$);
\end{tikzpicture}
\end{document}
